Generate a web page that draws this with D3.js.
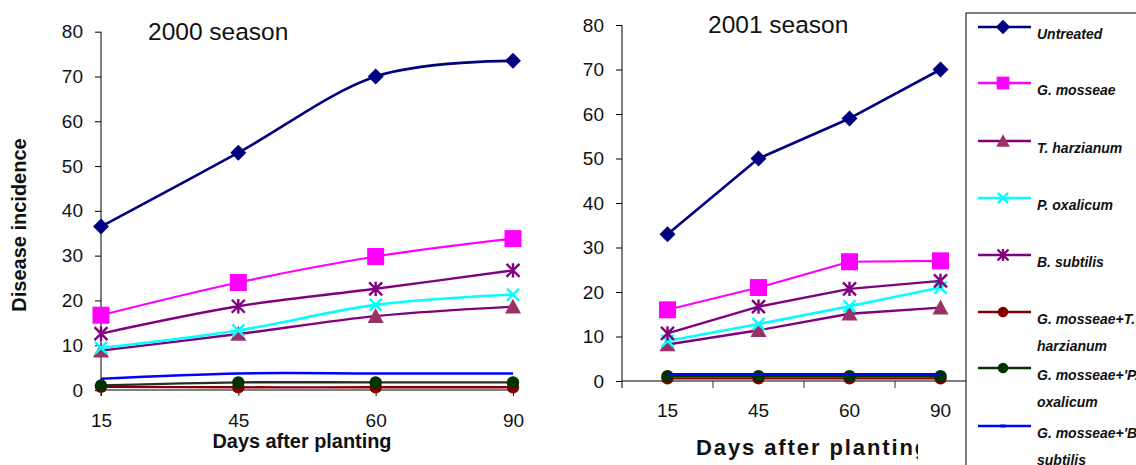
<!DOCTYPE html>
<html>
<head>
<meta charset="utf-8">
<script src="https://cdn.jsdelivr.net/npm/d3@7"></script>
<style>
  html, body { margin: 0; padding: 0; background: #fff; }
  svg { display: block; font-family: "Liberation Sans", Arial, sans-serif; }
</style>
</head>
<body>
<svg id="chart" width="1136" height="465"></svg>
<script>
// Days after planting
const categories = ["15", "45", "60", "90"];
const yTicks = [0, 10, 20, 30, 40, 50, 60, 70, 80];

const seriesNames = [
  "Untreated", "G. mosseae", "T. harzianum", "P. oxalicum", "B. subtilis",
  "G. mosseae+T. harzianum", "G. mosseae+'P. oxalicum", "G. mosseae+'B. subtilis"
];
const legendLines = [
  ["Untreated"], ["G. mosseae"], ["T. harzianum"], ["P. oxalicum"], ["B. subtilis"],
  ["G. mosseae+T.", "harzianum"], ["G. mosseae+'P.", "oxalicum"], ["G. mosseae+'B.", "subtilis"]
];

// Disease incidence, 2000 season
const untreated2000 = [36.5, 53.0, 70.0, 73.5];
const mosseae2000 = [16.7, 24.0, 29.8, 33.8];
const harzianum2000 = [8.8, 12.5, 16.5, 18.6];
const oxalicum2000 = [9.4, 13.3, 19.0, 21.3];
const subtilis2000 = [12.6, 18.7, 22.6, 26.7];
const mosHar2000 = [0.7, 0.6, 0.6, 0.6];
const mosOxa2000 = [1.0, 1.7, 1.7, 1.7];
const mosSub2000 = [2.5, 3.7, 3.7, 3.7];

// Disease incidence, 2001 season
const untreated2001 = [33.0, 50.0, 59.0, 70.0];
const mosseae2001 = [16.0, 21.0, 26.8, 27.0];
const harzianum2001 = [8.2, 11.4, 15.1, 16.5];
const oxalicum2001 = [9.0, 12.8, 16.8, 21.0];
const subtilis2001 = [10.7, 16.7, 20.7, 22.5];
const mosHar2001 = [0.6, 0.6, 0.6, 0.6];
const mosOxa2001 = [1.1, 1.1, 1.1, 1.1];
const mosSub2001 = [1.5, 1.5, 1.5, 1.5];

const values2000 = [untreated2000, mosseae2000, harzianum2000, oxalicum2000, subtilis2000, mosHar2000, mosOxa2000, mosSub2000];
const values2001 = [untreated2001, mosseae2001, harzianum2001, oxalicum2001, subtilis2001, mosHar2001, mosOxa2001, mosSub2001];

// Per-series styling
const styles = [
  { line: "#000080", marker: "diamond", fill: "#000080", stroke: "none", size: 8, width: 2.6 },
  { line: "#FF00FF", marker: "square", fill: "#FF00FF", stroke: "none", size: 8.5, width: 2.2 },
  { line: "#800080", marker: "triangle", fill: "#993366", stroke: "none", size: 8, width: 2.4 },
  { line: "#00FFFF", marker: "cross", fill: "none", stroke: "#00FFFF", size: 6, width: 2.6 },
  { line: "#800080", marker: "asterisk", fill: "none", stroke: "#800080", size: 6.5, width: 2.4 },
  { line: "#800000", marker: "circle", fill: "#800000", stroke: "none", size: 6.2, width: 2.4 },
  { line: "#003300", marker: "circle", fill: "#003300", stroke: "none", size: 6.2, width: 2.4 },
  { line: "#0000FF", marker: "dash", fill: "#0000FF", stroke: "none", size: 3, width: 2.6 }
];

const svg = d3.select("#chart");

// clip for the right panel's axis title
svg.append("defs").append("clipPath").attr("id", "clipTitle2001")
  .append("rect").attr("x", 560).attr("y", 420).attr("width", 358).attr("height", 45);

function markerPath(kind, s) {
  switch (kind) {
    case "diamond": return `M0,${-s}L${s},0L0,${s}L${-s},0Z`;
    case "square": return `M${-s},${-s}H${s}V${s}H${-s}Z`;
    case "triangle": return `M0,${-s}L${s},${s * 0.85}L${-s},${s * 0.85}Z`;
    case "cross": return `M${-s},${-s}L${s},${s}M${s},${-s}L${-s},${s}`;
    case "asterisk": return `M${-s},${-s}L${s},${s}M${s},${-s}L${-s},${s}M0,${-s * 1.1}V${s * 1.1}`;
    case "circle": return d3.symbol(d3.symbolCircle, Math.PI * s * s)();
    case "dash": return `M${-s},-1.5H${s}V1.5H${-s}Z`;
  }
}

function drawMarker(g, st, x, y, scale) {
  const s = st.size * (scale || 1);
  g.append("path")
    .attr("transform", `translate(${x},${y})`)
    .attr("d", markerPath(st.marker, s))
    .attr("fill", st.fill)
    .attr("stroke", st.stroke)
    .attr("stroke-width", st.stroke === "none" ? 0 : 2.4);
}

function drawPanel(opts) {
  const { xPos, y, values, curve, lineOverrides } = opts;
  const g = svg.append("g");

  // y axis
  const yAxis = d3.axisLeft(y).tickValues(yTicks).tickSize(6).tickPadding(opts.tickPad).tickFormat(d3.format("d"));
  const ya = g.append("g").attr("transform", `translate(${opts.yAxisX},0)`).call(yAxis);
  ya.select(".domain").attr("d", `M0,${y(80)}V${opts.yAxisBottom}`).attr("stroke", "#000").attr("stroke-width", 1);
  ya.selectAll(".tick line").attr("stroke", "#000");
  ya.selectAll(".tick text").attr("font-size", 19).attr("fill", "#111").attr("font-family", "Liberation Sans, Arial, sans-serif");

  // x axis
  opts.drawXAxis(g);

  // series lines and markers
  const line = d3.line()
    .x((d, i) => xPos(categories[i]))
    .y(d => y(d))
    .curve(curve);
  values.forEach((vals, k) => {
    const st = styles[k];
    const color = (lineOverrides && lineOverrides[k]) || st.line;
    g.append("path")
      .attr("d", line(vals))
      .attr("fill", "none")
      .attr("stroke", color)
      .attr("stroke-width", st.width)
      .attr("stroke-linejoin", "round");
    if (st.marker !== "dash") {
      vals.forEach((v, i) => drawMarker(g, st, xPos(categories[i]), y(v)));
    }
  });

  // panel title
  g.append("text").attr("x", opts.titleX).attr("y", opts.titleY)
    .attr("font-size", opts.titleSize).attr("fill", "#111")
    .text(opts.title);
  return g;
}

// ---- 2000 season ----
const x2000 = d3.scalePoint().domain(categories).range([101, 513]);
const y2000 = d3.scaleLinear().domain([0, 80]).range([390, 31.7]);
drawPanel({
  xPos: c => x2000(c), y: y2000, values: values2000,
  curve: d3.curveCardinal.tension(0),
  lineOverrides: { 6: "#2b2b2b" },
  yAxisX: 101, yAxisBottom: 396, tickPad: 12,
  title: "2000 season", titleX: 148, titleY: 40, titleSize: 24.5,
  drawXAxis: g => {
    const xa = g.append("g").attr("transform", "translate(0,390)")
      .call(d3.axisBottom(x2000).tickSize(6).tickPadding(18));
    xa.select(".domain").attr("d", `M${x2000("15")},0H${x2000("90")}`).attr("stroke", "#808080").attr("stroke-width", 2.2);
    xa.selectAll(".tick line").attr("stroke", "#111");
    xa.selectAll(".tick text").attr("font-size", 19).attr("fill", "#111").attr("font-family", "Liberation Sans, Arial, sans-serif");
    g.append("text").attr("x", 302).attr("y", 448).attr("text-anchor", "middle")
      .attr("font-size", 20).attr("font-weight", "bold").attr("fill", "#111")
      .attr("textLength", 179).attr("lengthAdjust", "spacingAndGlyphs")
      .text("Days after planting");
  }
});

// y-axis title on the left
svg.append("text")
  .attr("transform", "translate(26,225) rotate(-90)")
  .attr("text-anchor", "middle")
  .attr("font-size", 20).attr("font-weight", "bold").attr("fill", "#111")
  .text("Disease incidence");

// ---- 2001 season ----
const x2001 = d3.scaleBand().domain(categories).range([622, 986]);
const y2001 = d3.scaleLinear().domain([0, 80]).range([381, 25]);
drawPanel({
  xPos: c => x2001(c) + x2001.bandwidth() / 2, y: y2001, values: values2001,
  curve: d3.curveLinear,
  yAxisX: 622, yAxisBottom: 388, tickPad: 12,
  title: "2001 season", titleX: 708, titleY: 33, titleSize: 24.5,
  drawXAxis: g => {
    const xa = g.append("g").attr("transform", "translate(0,381)");
    xa.append("path").attr("d", `M${x2001.range()[0]},0H${x2001.range()[1]}`).attr("stroke", "#000").attr("stroke-width", 1.2);
    xa.selectAll(".edge").data(categories.slice(1)).join("line")
      .attr("x1", d => x2001(d)).attr("x2", d => x2001(d))
      .attr("y1", 0).attr("y2", 7).attr("stroke", "#333");
    xa.selectAll(".lbl").data(categories).join("text")
      .attr("x", d => x2001(d) + x2001.bandwidth() / 2).attr("y", 36)
      .attr("text-anchor", "middle").attr("font-size", 19).attr("fill", "#111")
      .text(d => d);
    g.append("text").attr("x", 696).attr("y", 455)
      .attr("clip-path", "url(#clipTitle2001)")
      .attr("font-size", 22).attr("font-weight", "bold").attr("fill", "#111")
      .attr("letter-spacing", 1.9)
      .text("Days after planting");
  }
});

// ---- legend ----
const lg = svg.append("g");
lg.append("rect").attr("x", 966).attr("y", 13).attr("width", 200).attr("height", 480)
  .attr("fill", "#fff").attr("stroke", "#000").attr("stroke-width", 1);
const legendY = [27, 83, 141, 198, 255, 312, 368, 426];
seriesNames.forEach((name, k) => {
  const st = styles[k];
  const yy = legendY[k];
  lg.append("line").attr("x1", 978).attr("x2", 1031).attr("y1", yy).attr("y2", yy)
    .attr("stroke", st.line).attr("stroke-width", 2.4);
  drawMarker(lg, st, 1003, yy, st.marker === "square" ? 0.75 : st.marker === "diamond" ? 0.9 : 0.85);
  legendLines[k].forEach((t, j) => {
    lg.append("text").attr("x", 1037).attr("y", yy + 12 + j * 27)
      .attr("font-size", 14).attr("font-weight", "bold").attr("font-style", "italic")
      .attr("fill", "#111").text(t);
  });
});
</script>
</body>
</html>
